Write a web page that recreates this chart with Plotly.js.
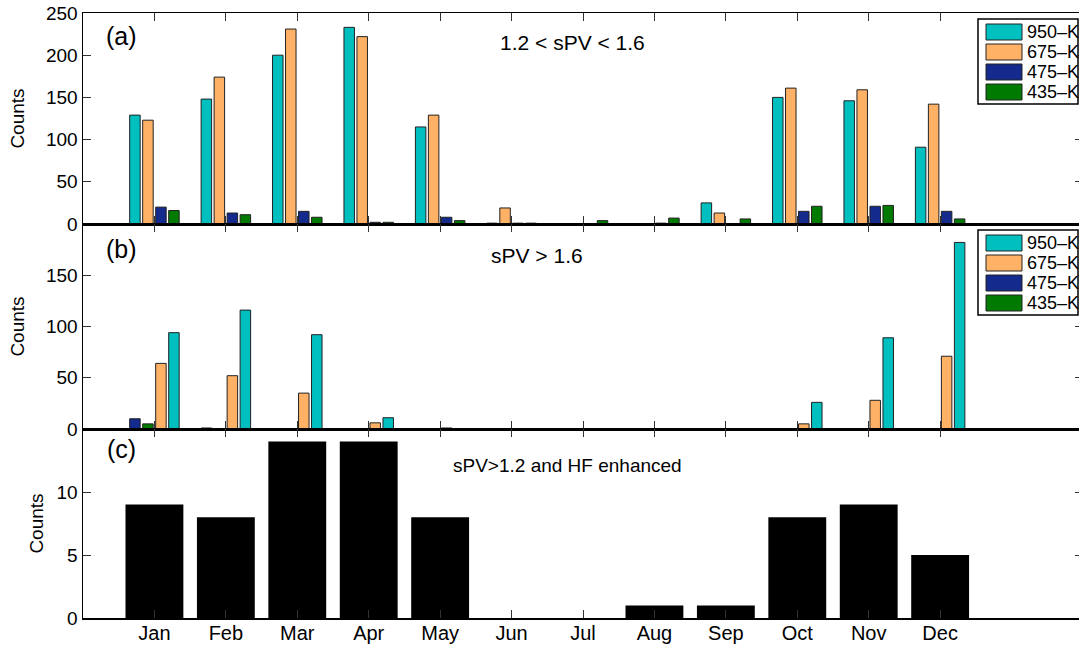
<!DOCTYPE html>
<html>
<head>
<meta charset="utf-8">
<script src="https://cdn.plot.ly/plotly-3.0.1.min.js"></script>
<style>
html,body{margin:0;padding:0;overflow:hidden;background:#fff;}
#chart{width:1084px;height:647px;}
</style>
</head>
<body>
<div id="chart"></div>
<script>
// ---- data ----
const months = ['Jan','Feb','Mar','Apr','May','Jun','Jul','Aug','Sep','Oct','Nov','Dec'];
const levels = ['950\u2013K','675\u2013K','475\u2013K','435\u2013K'];
// panel (a): 1.2 < sPV < 1.6
const a950 = [129,148,200,233,115,1,0,0,25,150,146,91];
const a675 = [123,174,231,222,129,19,0,0,13,161,159,142];
const a475 = [20,13,15,2,8,1,0,1,0,15,21,15];
const a435 = [16,11,8,2,4,1,4,7,6,21,22,6];
// panel (b): sPV > 1.6
const b950 = [94,116,92,11,0,0,0,0,0,26,89,182];
const b675 = [64,52,35,6,1,0,0,0,0,5,28,71];
const b475 = [10,1,0,0,0,0,0,0,0,0,0,0];
const b435 = [5,0,0,0,0,0,0,0,0,0,0,0];
// panel (c): sPV>1.2 and HF enhanced
const cHF = [9,8,14,14,8,0,0,1,1,8,9,5];
const panelTitles = ['1.2 < sPV < 1.6','sPV > 1.6','sPV>1.2 and HF enhanced'];
const panelLabels = ['(a)','(b)','(c)'];

// ---- styles ----
const colors = {'950':'#00BFBF','675':'#FFB266','475':'#142A8C','435':'#007A00'};
const FONT = 'Liberation Sans, Arial, Helvetica, sans-serif';
const W = 0.147, STEP = 0.182, START = -0.3465;

function barTrace(y, col, slot, xa, ya){
  return {type:'bar', x:months, y:y, xaxis:xa, yaxis:ya,
    width:W, offset:START + slot*STEP,
    marker:{color:col, line:{color:'#222', width:1}},
    showlegend:false, hoverinfo:'x+y'};
}
const traces = [
  barTrace(a950, colors['950'], 0, 'x', 'y'),
  barTrace(a675, colors['675'], 1, 'x', 'y'),
  barTrace(a475, colors['475'], 2, 'x', 'y'),
  barTrace(a435, colors['435'], 3, 'x', 'y'),
  barTrace(b475, colors['475'], 0, 'x2', 'y2'),
  barTrace(b435, colors['435'], 1, 'x2', 'y2'),
  barTrace(b675, colors['675'], 2, 'x2', 'y2'),
  barTrace(b950, colors['950'], 3, 'x2', 'y2'),
  {type:'bar', x:months, y:cHF, xaxis:'x3', yaxis:'y3', width:0.81, offset:-0.405,
   marker:{color:'#000', line:{color:'#000', width:0}}, showlegend:false}
];

// pixel helpers (plot area: x 83..1083, y 13..618)
const PL=83, PR=1083, PT=13, PB=618;
const px = v => (v-PL)/(PR-PL);
const py = v => (PB-v)/(PB-PT);

const xCommon = {type:'category', range:[-1,13], showline:true, linecolor:'#000', linewidth:1.5,
  mirror:'ticks', ticks:'inside', ticklen:8, tickcolor:'#333', tickwidth:1,
  showgrid:false, zeroline:false, fixedrange:true,
  tickfont:{family:FONT, size:20, color:'#000'}};
function yAx(standoff){
  return {showline:true, linecolor:'#000', linewidth:1.5, mirror:'ticks',
  ticks:'inside', ticklen:8, tickcolor:'#333', tickwidth:1, showgrid:false, zeroline:false,
  tickfont:{family:FONT, size:19, color:'#000'},
  title:{text:'Counts', font:{family:FONT, size:19, color:'#000'}, standoff:standoff}};
}

const dA=[py(224),1], dB=[py(429),py(224)], dC=[0,py(429)];

const layout = {
  width:1084, height:647,
  margin:{l:PL, r:1084-PR, t:PT, b:647-PB},
  paper_bgcolor:'#fff', plot_bgcolor:'#fff',
  barmode:'overlay',
  showlegend:false,
  font:{family:FONT, color:'#000'},
  xaxis: Object.assign({}, xCommon, {anchor:'y', showticklabels:false}),
  xaxis2: Object.assign({}, xCommon, {anchor:'y2', showticklabels:false}),
  xaxis3: Object.assign({}, xCommon, {anchor:'y3', showticklabels:true, ticklabelstandoff:-4}),
  yaxis: Object.assign(yAx(16), {domain:dA, range:[0,250], tickvals:[0,50,100,150,200,250]}),
  yaxis2: Object.assign(yAx(16), {domain:dB, range:[0,200], tickvals:[0,50,100,150]}),
  yaxis3: Object.assign(yAx(8), {domain:dC, range:[0,15], tickvals:[0,5,10]}),
  annotations:[], shapes:[]
};

// panel labels and titles
const labY=[36,249,449], titX=[572,537,567], titY=[43,255,465], titSize=[21,21,19];
for(let i=0;i<3;i++){
  layout.annotations.push({xref:'paper', yref:'paper', x:px(121), y:py(labY[i]), text:panelLabels[i],
    showarrow:false, xanchor:'center', yanchor:'middle', font:{family:FONT, size:25, color:'#000'}});
  layout.annotations.push({xref:'paper', yref:'paper', x:px(titX[i]), y:py(titY[i]), text:panelTitles[i],
    showarrow:false, xanchor:'center', yanchor:'middle', font:{family:FONT, size:titSize[i], color:'#000'}});
}

// custom legends (a) and (b)
const legColors=[colors['950'],colors['675'],colors['475'],colors['435']];
[[19,104,32],[230,315,243]].forEach(([top,bot,first])=>{
  layout.shapes.push({type:'rect', xref:'paper', yref:'paper', x0:px(978), x1:px(1078), y0:py(bot), y1:py(top),
    line:{color:'#000', width:1.5}, fillcolor:'#fff', layer:'above'});
  for(let k=0;k<4;k++){
    const cy = first + k*20;
    layout.shapes.push({type:'rect', xref:'paper', yref:'paper', x0:px(986), x1:px(1022), y0:py(cy+8), y1:py(cy-8),
      line:{color:'#222', width:1}, fillcolor:legColors[k], layer:'above'});
    layout.annotations.push({xref:'paper', yref:'paper', x:px(1025), y:py(cy), text:levels[k], showarrow:false,
      xanchor:'left', yanchor:'middle', font:{family:FONT, size:18, color:'#000'}});
  }
});

Plotly.newPlot('chart', traces, layout, {displayModeBar:false, staticPlot:true});
</script>
</body>
</html>
